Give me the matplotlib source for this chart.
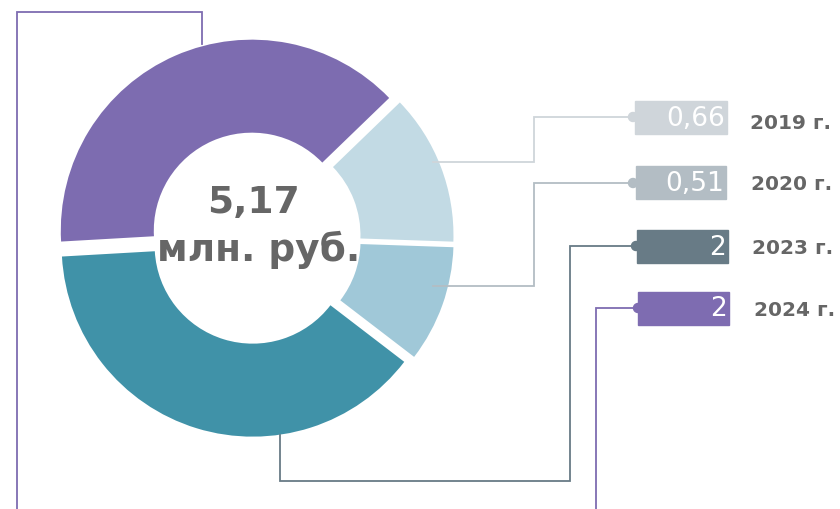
import matplotlib
matplotlib.use('Agg')
import matplotlib.pyplot as plt
from matplotlib.patches import Rectangle, Circle

# data
years = ['2019 г.', '2020 г.', '2023 г.', '2024 г.']
values = [0.66, 0.51, 2, 2]
wedge_colors = ['#c2dae4', '#a0c8d8', '#4092a8', '#7d6cb0']
tag_colors = ['#cfd5da', '#b3bdc4', '#687b86', '#7e6cb1']
unit = 'млн. руб.'

W, H = 840, 509


def fmt(v):
    return format(round(v, 2), 'g').replace('.', ',')


def py(y):
    # pixel y (top-down) -> data y
    return H - y


fig = plt.figure(figsize=(W / 100, H / 100), dpi=100)
ax = fig.add_axes([0, 0, 1, 1])

# donut, slices pushed apart a little
R = 191
ax.pie(values, colors=wedge_colors, startangle=44, counterclock=False,
       radius=R, center=(255, py(238)), explode=[8] * len(values),
       wedgeprops=dict(width=93, linewidth=0))

total = sum(values)
ax.text(253, py(203), fmt(total), ha='center', va='center',
        fontsize=27, fontweight='bold', color='#666666')
ax.text(259, py(250), unit, ha='center', va='center',
        fontsize=27, fontweight='bold', color='#666666')

# connector paths in pixel coords (layout only)
paths = [
    [[(433, 162), (534, 162), (534, 117), (633, 117)]],
    [[(433, 286), (534, 286), (534, 183), (633, 183)]],
    [[(280, 435), (280, 481), (570, 481), (570, 246), (636, 246)]],
    [[(202, 44), (202, 12), (17, 12), (17, 520)],
     [(596, 520), (596, 308), (638, 308)]],
]
boxes = [(635, 101, 92, 33), (636, 166, 90, 33),
         (637, 230, 91, 33), (638, 292, 91, 33)]
year_pos = [(750, 123), (751, 184), (752, 248), (754, 310)]

for i, (yr, v) in enumerate(zip(years, values)):
    col = tag_colors[i]
    for seg in paths[i]:
        xs = [p[0] for p in seg]
        ys = [py(p[1]) for p in seg]
        ax.plot(xs, ys, color=col, lw=1.3, zorder=3, solid_joinstyle='miter')
    end = paths[i][-1][-1]
    ax.add_patch(Circle((end[0], py(end[1])), 4.5, color=col, zorder=4))
    bx, by, bw, bh = boxes[i]
    ax.add_patch(Rectangle((bx, py(by + bh)), bw, bh, color=col, zorder=4))
    ax.text(bx + bw - 2, py(by + bh / 2 + 1), fmt(v), ha='right', va='center',
            fontsize=19, color='white', zorder=5)
    ax.text(year_pos[i][0], py(year_pos[i][1]), yr, ha='left', va='center',
            fontsize=14.5, fontweight='bold', color='#666666')

ax.set_xlim(0, W)
ax.set_ylim(0, H)
ax.set_aspect('equal')
ax.axis('off')

fig.savefig('out.png', dpi=100)
